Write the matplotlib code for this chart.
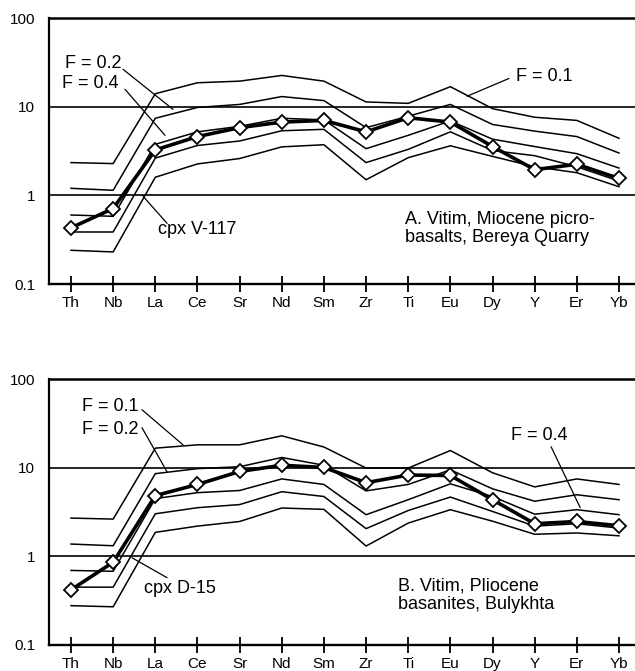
import matplotlib
matplotlib.use("Agg")
import matplotlib.pyplot as plt
from matplotlib.ticker import FixedLocator, NullLocator, FixedFormatter

plt.rcParams['font.family'] = ['Liberation Sans', 'DejaVu Sans']

elements = ['Th', 'Nb', 'La', 'Ce', 'Sr', 'Nd', 'Sm', 'Zr', 'Ti', 'Eu', 'Dy', 'Y', 'Er', 'Yb']

# Panel A: Vitim, Miocene picrobasalts (cpx V-117 and melt models)
a_cpx = [0.43, 0.71, 3.25, 4.6, 5.8, 6.7, 7.0, 5.2, 7.5, 6.7, 3.55, 1.95, 2.24, 1.55]
a_f01 = [2.34, 2.28, 14.0, 18.6, 19.4, 22.5, 19.4, 11.3, 10.9, 16.8, 9.5, 7.6, 7.0, 4.4]
a_f02 = [1.2, 1.14, 7.4, 9.8, 10.6, 13.0, 11.7, 5.8, 7.8, 10.6, 6.3, 5.3, 4.6, 3.0]
a_f04 = [0.6, 0.58, 3.76, 5.2, 6.0, 7.4, 7.1, 3.36, 4.75, 6.9, 4.3, 3.55, 2.95, 2.03]
a_l4 = [0.386, 0.386, 2.63, 3.65, 4.1, 5.35, 5.55, 2.34, 3.3, 5.2, 3.2, 2.8, 2.1, 1.45]
a_l5 = [0.24, 0.23, 1.6, 2.26, 2.6, 3.52, 3.72, 1.5, 2.66, 3.62, 2.75, 2.1, 1.8, 1.25]

# Panel B: Vitim, Pliocene basanites (cpx D-15 and melt models)
b_cpx = [0.42, 0.86, 4.86, 6.5, 9.1, 10.7, 10.1, 6.8, 8.3, 8.2, 4.37, 2.34, 2.48, 2.22]
b_f01 = [2.71, 2.64, 16.7, 18.2, 18.2, 23.0, 17.2, 9.95, 9.95, 15.7, 8.8, 6.1, 7.5, 6.5]
b_f02 = [1.38, 1.32, 8.6, 9.8, 10.3, 13.1, 10.7, 5.5, 6.5, 9.5, 5.8, 4.2, 4.97, 4.37]
b_f04 = [0.695, 0.68, 4.5, 5.25, 5.55, 7.5, 6.5, 2.96, 4.37, 6.6, 4.75, 3.0, 3.37, 2.96]
b_l4 = [0.45, 0.45, 3.03, 3.55, 3.85, 5.38, 4.75, 2.06, 3.3, 4.68, 3.22, 2.2, 2.34, 2.09]
b_l5 = [0.278, 0.27, 1.87, 2.2, 2.48, 3.52, 3.4, 1.31, 2.38, 3.37, 2.5, 1.78, 1.84, 1.71]

y_ticks = [0.1, 1, 10, 100]
y_labels = ['0.1', '1', '10', '100']

W, H = 635, 671
fig = plt.figure(figsize=(W / 100, H / 100), dpi=100)

left = 49 / W
ax_a = fig.add_axes([left, 1 - 284 / H, 1 - left, (284 - 18) / H])
ax_b = fig.add_axes([left, 1 - 645 / H, 1 - left, (645 - 379.3) / H])

x = list(range(len(elements)))


def style(ax):
    ax.set_yscale('log')
    ax.set_ylim(0.1, 100)
    ax.set_xlim(-0.522, 13.38)
    ax.yaxis.set_major_locator(FixedLocator(y_ticks))
    ax.yaxis.set_major_formatter(FixedFormatter(y_labels))
    ax.yaxis.set_minor_locator(NullLocator())
    ax.set_xticks(x)
    ax.set_xticklabels(elements)
    ax.tick_params(axis='x', direction='inout', length=11, width=1.3,
                   labelsize=11, pad=3)
    ax.tick_params(axis='y', length=0, labelsize=11, pad=10)
    ax.spines['right'].set_visible(False)
    ax.spines['left'].set_linewidth(1.6)
    ax.spines['bottom'].set_linewidth(1.7)
    ax.spines['top'].set_linewidth(1.8)
    for v in [1, 10]:
        ax.axhline(v, color='black', lw=1.2, zorder=1)


def draw(ax, models, cpx):
    for m in models:
        ax.plot(x, m, color='black', lw=1.1, zorder=2)
    ax.plot(x, cpx, color='black', lw=2.6, zorder=3,
            marker='D', markersize=7, markerfacecolor='white',
            markeredgecolor='black', markeredgewidth=1.3)


style(ax_a)
style(ax_b)
draw(ax_a, [a_f01, a_f02, a_f04, a_l4, a_l5], a_cpx)
draw(ax_b, [b_f01, b_f02, b_f04, b_l4, b_l5], b_cpx)

fs = 13
arrow = dict(arrowstyle='-', color='black', lw=0.9, shrinkA=0, shrinkB=0)


def label(ax, text, tx, ty, sx, sy, ex, ey):
    ax.text(tx, ty, text, fontsize=fs, ha='left', va='center', zorder=5)
    ax.annotate('', xy=(ex, ey), xytext=(sx, sy), arrowprops=arrow, zorder=4)


# Panel A labels
label(ax_a, 'F = 0.2', -0.142, 30.8, 1.234, 26.4, 2.42, 9.33)
label(ax_a, 'F = 0.4', -0.214, 18.3, 1.281, 15.7, 2.23, 4.75)
label(ax_a, 'F = 0.1', 10.56, 22.0, 10.39, 20.8, 9.395, 13.1)
label(ax_a, 'cpx V-117', 2.06, 0.414, 2.28, 0.483, 1.71, 0.975)
ax_a.text(7.92, 0.425, 'A. Vitim, Miocene picro-\nbasalts, Bereya Quarry',
          fontsize=fs, ha='left', va='center', linespacing=1.1)

# Panel B labels
label(ax_b, 'F = 0.1', 0.26, 48.9, 1.684, 45.3, 2.657, 18.2)
label(ax_b, 'F = 0.2', 0.26, 26.9, 1.684, 28.4, 2.278, 9.04)
label(ax_b, 'cpx D-15', 1.73, 0.432, 2.278, 0.575, 1.447, 0.966)
label(ax_b, 'F = 0.4', 10.44, 23.0, 11.39, 17.3, 12.08, 3.55)
ax_b.text(7.76, 0.365, 'B. Vitim, Pliocene\nbasanites, Bulykhta',
          fontsize=fs, ha='left', va='center', linespacing=1.1)

fig.savefig('out.png', dpi=100)
